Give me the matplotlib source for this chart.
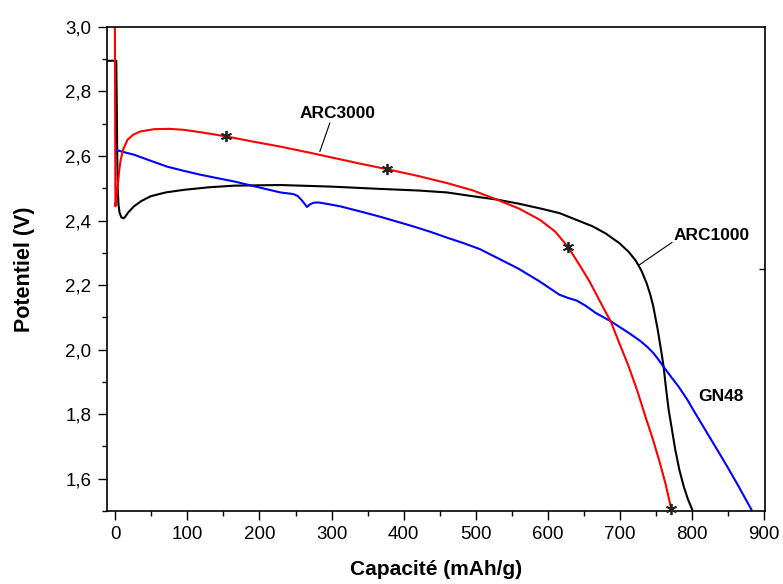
import numpy as np
import matplotlib
matplotlib.use("Agg")
import matplotlib.pyplot as plt
from matplotlib.ticker import MultipleLocator, FuncFormatter

plt.rcParams['font.family'] = ['Liberation Sans', 'DejaVu Sans']

# ARC3000 (rouge)
cap_arc3000 = [-0.5, 0.3, 1.2, 2.5, 3.9, 5.5, 7.6, 11, 17, 25, 35, 54, 75, 95, 120, 153, 190,
               229, 270, 307, 340, 377, 420, 460, 495, 529, 560, 589, 610, 628, 645, 658,
               669, 678, 687, 699, 712, 724, 735, 745, 754, 763, 771]
pot_arc3000 = [3.05, 2.444, 2.46, 2.49, 2.516, 2.555, 2.588, 2.62, 2.65, 2.666, 2.676, 2.683,
               2.684, 2.681, 2.673, 2.661, 2.645, 2.629, 2.61, 2.592, 2.576, 2.559, 2.538,
               2.516, 2.494, 2.465, 2.437, 2.402, 2.366, 2.318, 2.258, 2.21, 2.163, 2.125,
               2.088, 2.02, 1.948, 1.872, 1.794, 1.726, 1.659, 1.585, 1.507]

# ARC1000 (noir)
cap_arc1000 = [-11, 1.5, 2.2, 2.8, 3.5, 4.5, 6, 8.5, 11.3, 14, 18, 26, 36, 49, 70, 95, 130, 165,
               229, 300, 367, 420, 460, 506, 529, 560, 590, 616, 644, 662, 680, 699, 712, 722,
               730, 737, 742, 746, 749, 752, 754.5, 757.5, 760.4, 763.7, 767.4, 772, 776.6,
               782.2, 788.2, 794.2, 800]
pot_arc1000 = [2.895, 2.895, 2.75, 2.6, 2.5, 2.45, 2.425, 2.41, 2.407, 2.412, 2.425, 2.444,
               2.46, 2.475, 2.487, 2.495, 2.503, 2.508, 2.51, 2.505, 2.498, 2.493, 2.487,
               2.472, 2.465, 2.452, 2.437, 2.423, 2.398, 2.382, 2.36, 2.33, 2.303, 2.275,
               2.243, 2.205, 2.17, 2.135, 2.10, 2.065, 2.031, 1.99, 1.948, 1.881, 1.814, 1.752,
               1.69, 1.628, 1.577, 1.536, 1.505]

# GN48 (bleu)
cap_gn48 = [0.7, 10, 26, 48, 72, 95, 118, 140, 165, 195, 229, 247, 253, 259, 266, 270, 275, 282,
            295, 312, 340, 367, 390, 413, 437, 460, 483, 506, 529, 559, 588, 616, 628, 640,
            653, 666, 687, 712, 728, 738, 746, 753, 760, 770, 781, 793, 804, 818, 832, 847,
            864, 882]
pot_gn48 = [2.619, 2.613, 2.604, 2.586, 2.567, 2.554, 2.542, 2.532, 2.521, 2.505, 2.487, 2.482,
            2.476, 2.462, 2.442, 2.45, 2.455, 2.456, 2.451, 2.444, 2.428, 2.412, 2.397, 2.382,
            2.365, 2.347, 2.33, 2.311, 2.285, 2.251, 2.212, 2.170, 2.16, 2.152, 2.135, 2.114,
            2.088, 2.052, 2.027, 2.008, 1.99, 1.97, 1.948, 1.918, 1.886, 1.846, 1.804,
            1.752, 1.70, 1.644, 1.578, 1.505]

# marqueurs * sur ARC3000
cap_stars = [153, 377, 628, 770]
pot_stars = [2.661, 2.559, 2.318, 1.507]

fig = plt.figure(figsize=(7.83, 5.84), dpi=100)
ax = fig.add_axes([0.137, 0.125, 0.840, 0.829])

ax.plot(cap_arc1000, pot_arc1000, color='black', lw=1.5)
ax.plot(cap_gn48, pot_gn48, color='#0000ff', lw=1.5)
ax.plot(cap_arc3000, pot_arc3000, color='#ff0000', lw=1.5)
ax.plot(cap_stars, pot_stars, ls='none', marker=(6, 2, 0), ms=8, mew=1.3, color='#222222',
        clip_on=False, zorder=5)

ax.set_xlim(-11, 901)
ax.set_ylim(1.5, 3.0)

ax.xaxis.set_major_locator(MultipleLocator(100))
ax.xaxis.set_minor_locator(MultipleLocator(50))
ax.yaxis.set_major_locator(MultipleLocator(0.2))
ax.yaxis.set_minor_locator(MultipleLocator(0.1))
ax.yaxis.set_major_formatter(FuncFormatter(lambda v, p: f"{v:.1f}".replace('.', ',')))

ax.tick_params(which='major', direction='out', length=6.5, width=1.0, labelsize=13.5)
ax.tick_params(which='minor', direction='out', length=3.3, width=1.0)
ax.tick_params(axis='x', which='major', pad=4.5)
ax.tick_params(axis='y', which='major', pad=5)
for s in ax.spines.values():
    s.set_linewidth(1.2)

# petit repère sur l'axe de droite
sec = ax.secondary_yaxis('right')
sec.set_yticks([2.25])
sec.tick_params(direction='in', length=4, width=1.0, labelright=False)
sec.spines['right'].set_visible(False)

ax.set_xlabel("Capacité (mAh/g)", fontsize=15, fontweight='bold', labelpad=12)
ax.set_ylabel("Potentiel (V)", fontsize=15.5, fontweight='bold', labelpad=22)

# étiquettes des courbes
ax.text(308, 2.731, "ARC3000", fontsize=12.5, fontweight='bold', ha='center', va='center')
ax.plot([297.6, 283.8], [2.702, 2.614], color='black', lw=0.8)
ax.text(774, 2.354, "ARC1000", fontsize=12.5, fontweight='bold', ha='left', va='center')
ax.plot([772, 727], [2.332, 2.263], color='black', lw=0.8)
ax.text(809, 1.855, "GN48", fontsize=12.5, fontweight='bold', ha='left', va='center')

fig.savefig("out.png", dpi=100)
